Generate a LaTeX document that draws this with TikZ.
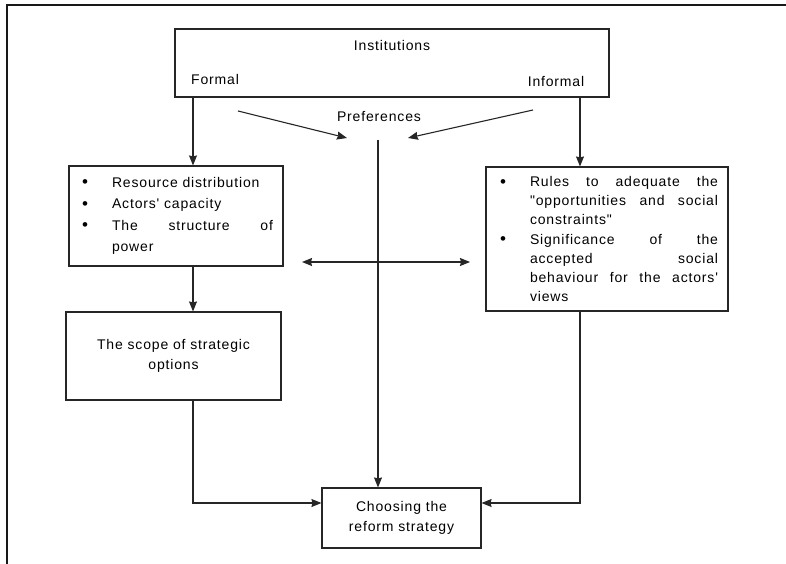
\documentclass[tikz,border=0pt]{standalone}
\usepackage{fontspec}
\newfontfamily\figfont{Liberation Sans}[LetterSpace=6]
\usetikzlibrary{arrows.meta}
% bullet hanging in the left margin of a justified item
\newcommand\bitem{\noindent\llap{\makebox[30pt][l]{\raisebox{-0.6pt}{\fontsize{17pt}{17pt}\selectfont\textbullet}}}}

\begin{document}
\begin{tikzpicture}[x=1pt,y=-1pt,
  every node/.style={font=\figfont\fontsize{14pt}{20pt}\selectfont, text=black},
  box/.style={draw=black!85, line width=1.1pt, inner sep=0pt},
  conn/.style={draw=black!85, line width=1.1pt},
  tip/.tip={Stealth[length=10pt,width=8pt,inset=1pt]},
  arr/.style={conn, -tip},
  biarr/.style={conn, tip-tip},
  txt/.style={inner sep=0pt}]

\useasboundingbox (0,0) rectangle (786,564);
\fill[white] (0,0) rectangle (786,564);

% page frame (left and top edges)
\draw[line width=1.8pt, black!90, line join=miter] (7,564) -- (7,5) -- (786,5);

% institutions box and its labels
\node[box, minimum width=434pt, minimum height=68pt] (inst) at (392,63) {};
\node[txt] (insttitle) at (392,45) {Institutions};
\node[txt] (formal) at (215,79) {Formal};
\node[txt] (informal) at (556,81) {Informal};
\node[txt] (pref) at (379,117) {Preferences};

% formal side
\node[box, minimum width=214pt, minimum height=100pt, text width=214pt, align=justify,
      font=\figfont\fontsize{14pt}{21.5pt}\selectfont] (res) at (176,216)
  {\leftskip=43pt\rightskip=10pt
   \bitem Resource distribution\par
   \bitem Actors' capacity\par
   \bitem The structure of\linebreak power\par};

\node[box, minimum width=215pt, minimum height=88pt, align=center] (scope) at (173.5,356)
  {The scope of strategic\\options};

% informal side
\node[box, minimum width=242pt, minimum height=144pt, text width=242pt, align=justify,
      font=\figfont\fontsize{14pt}{19.2pt}\selectfont] (rules) at (607,239)
  {\leftskip=44pt\rightskip=10pt
   \bitem Rules to adequate the\linebreak "opportunities and social\linebreak constraints"\par
   \bitem Significance of the\linebreak accepted social\linebreak behaviour for the actors'\linebreak views\par};

% outcome
\node[box, minimum width=159pt, minimum height=60pt, align=center] (choose) at (401.5,518)
  {Choosing the\\reform strategy};

% reference points for the connectors
\coordinate (xf) at (193,0);
\coordinate (xi) at (580,0);
\coordinate (plA) at (238,111);
\coordinate (plB) at (347,138);
\coordinate (prA) at (533,110);
\coordinate (prB) at (408,138);
\coordinate (vtop) at (378,140);
\coordinate (dl) at (302,262);
\coordinate (dr) at (470,262);
\coordinate (yb) at (0,503);

% connectors
\draw[arr] (inst.south -| xf) -- (res.north -| xf);
\draw[arr] (inst.south -| xi) -- (rules.north -| xi);
\draw[arr] (plA) -- (plB);
\draw[arr] (prA) -- (prB);
\draw[arr] (vtop) -- (choose.north -| vtop);
\draw[biarr] (dl) -- (dr);
\draw[arr] (res.south -| xf) -- (scope.north -| xf);
\draw[arr] (scope.south -| xf) |- (choose.west |- yb);
\draw[arr] (rules.south -| xi) |- (choose.east |- yb);
\end{tikzpicture}
\end{document}
